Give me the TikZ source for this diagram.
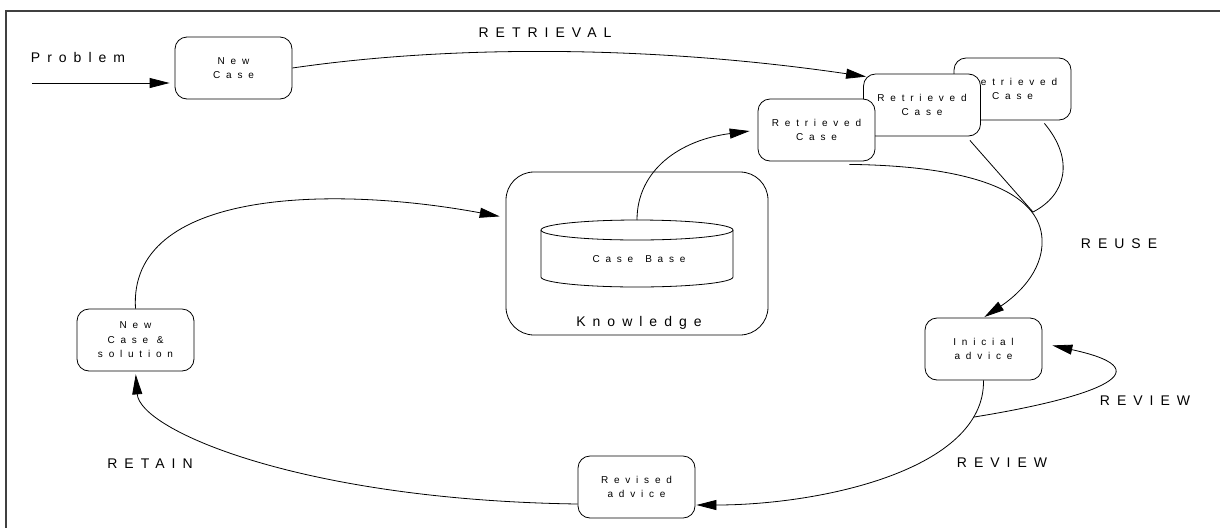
\documentclass[tikz,border=0pt]{standalone}
\usepackage{fontspec}
\usetikzlibrary{arrows.meta, positioning, calc}
\newfontfamily\labelfont[LetterSpace=50]{Liberation Sans}
\newfontfamily\boxfont[LetterSpace=58]{Liberation Sans}
\tikzset{
  casebox/.style={draw, fill=white, rounded corners=12pt, minimum width=117pt, minimum height=62pt,
    inner sep=0pt, align=center, font=\boxfont\fontsize{10}{14.5}\selectfont},
  stagelabel/.style={font=\labelfont\fontsize{14}{16}\selectfont},
  flow/.style={-{Triangle[length=20pt,width=10pt]}, shorten >=2pt},
}
\begin{document}
\begin{tikzpicture}[x=1pt, y=-1pt, line width=0.8pt]
        % CBR cycle
        \useasboundingbox (0,0) rectangle (1220,528);
        \draw[line width=2pt, black!75] (1220,11) -- (6,11) -- (6,528);

        \node[casebox] (newcase) at (233.5,68) {New\\Case};
        \node[casebox] (ret3) at (1012.5,89) {Retrieved\\Case};
        \node[casebox] (ret2) at (922,105) {Retrieved\\Case};
        \node[casebox] (ret1) at (816.5,130) {Retrieved\\Case};
        \node[draw, rounded corners=28pt, minimum width=262pt, minimum height=163pt] (knowledge) at (637,253.5) {};
        \node[stagelabel] (knowlabel) at (639,323) {Knowledge};
        \draw (541,230) -- (541,277) arc[start angle=180, end angle=0, x radius=96, y radius=10] -- (733,230);
        \draw (637,230) ellipse[x radius=96, y radius=10];
        \node[font=\boxfont\fontsize{10}{12}\selectfont] (casebase) at (639,259) {Case\hspace{12pt}Base};
        \coordinate (cbtop) at (637,220);
        \node[casebox] (inicial) at (983.5,349) {Inicial\\advice};
        \node[casebox] (revised) at (636.5,487) {Revised\\advice};
        \node[casebox] (newsol) at (135.5,340) {New\\Case \&\\solution};

        \node[stagelabel] (problem) at (78,57) {Problem};
        \node[stagelabel] (retrieval) at (545,33) {RETRIEVAL};
        \node[stagelabel] (reuse) at (1119,244) {REUSE};
        \node[stagelabel] (review1) at (1145,401) {REVIEW};
        \node[stagelabel] (review2) at (1002,463) {REVIEW};
        \node[stagelabel] (retain) at (150,464) {RETAIN};

        \coordinate (probstart) at (32,83);
        \coordinate (merge) at (1033,212);
        \draw[flow] (probstart) -- ($(newcase.west)+(-3,15)$);
        \draw[flow, shorten >=0pt] (newcase.east) .. controls (450,45) and (650,45) .. ($(ret2.north west)+(3,3)$);
        \draw[flow, shorten >=8pt] (cbtop) .. controls (637,170) and (680,140) .. (ret1.west);
        \draw[flow, shorten >=1pt] ($(ret1.south east)+(-26,3)$) .. controls (980,166) and (1045,195) .. (1042,245)
            .. controls (1040,278) and (1010,300) .. (inicial.north);
        \draw ($(ret2.south east)+(-11,4)$) -- (merge);
        \draw ($(ret3.south east)+(-27,3)$) .. controls (1075,160) and (1066,195) .. (merge);
        \draw[flow, shorten >=1pt] (inicial.south) .. controls (985,470) and (820,505) .. ($(revised.east)+(0,18)$)
            coordinate[pos=0.15] (split);
        \draw[flow] (split) .. controls (1080,400) and (1175,372) .. ($(inicial.east)+(8,-4)$);
        \draw[flow, shorten >=3pt] ($(revised.west)+(0,17)$) .. controls (300,500) and (140,430) .. (newsol.south);
        \draw[flow, shorten >=6pt] (newsol.north) .. controls (128,190) and (330,185) .. ($(knowledge.west)+(0,-36)$);
\end{tikzpicture}
\end{document}
